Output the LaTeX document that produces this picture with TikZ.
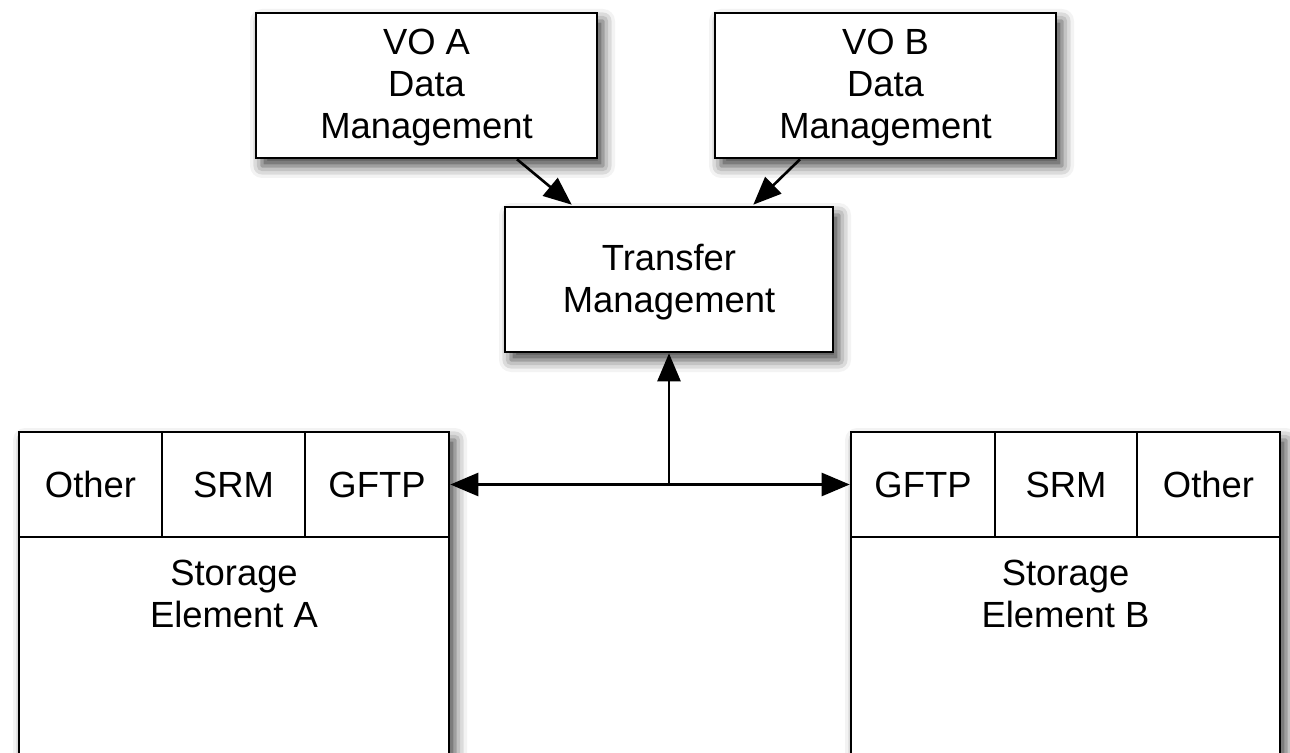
\documentclass[tikz,border=0pt]{standalone}
\usepackage{fontspec}
\setmainfont{Liberation Sans}
\usetikzlibrary{arrows.meta,shadows.blur,calc}
\begin{document}
\begin{tikzpicture}[x=0.5pt,y=-0.5pt,
  txt/.style={font=\fontsize{18.2}{21}\selectfont, align=center, inner sep=0pt},
  shad/.style={blur shadow={shadow xshift=3pt,shadow yshift=-4pt,shadow blur radius=6pt,shadow opacity=75}},
  box/.style={txt, draw, line width=1.3pt, fill=white, shad},
  cell/.style={txt, draw, line width=1.3pt, fill=white, minimum height=52.5pt},
  arr/.style={line width=1.3pt, -{Triangle[length=14pt,width=11.5pt]}}]
\useasboundingbox (0,0) rectangle (1290,753);

\node[box, minimum width=170.5pt, minimum height=72.5pt] (voa) at (426.5,85.5) {};
\node[box, minimum width=170.5pt, minimum height=72.5pt] (vob) at (885.5,85.5) {};
\node[box, minimum width=164pt, minimum height=72.5pt] (tm) at (669,279.5) {};
\node[txt] (voat) at (426.5,88) {VO A\\Data\\Management};
\node[txt] (vobt) at (885.5,88) {VO B\\Data\\Management};
\node[txt] (tmt) at (669,282) {Transfer\\Management};

\node[box, minimum width=215pt, minimum height=184pt] (sea) at (234,616) {};
\node[box, minimum width=214.5pt, minimum height=184pt] (seb) at (1065.5,616) {};

\node[cell, minimum width=71.5pt] (oa) at (90.5,484.5) {Other};
\node[cell, minimum width=71.5pt] (sa) at (233.5,484.5) {SRM};
\node[cell, minimum width=72pt] (ga) at (377,484.5) {GFTP};
\node[cell, minimum width=72pt] (gb) at (923,484.5) {GFTP};
\node[cell, minimum width=71pt] (sb) at (1066,484.5) {SRM};
\node[cell, minimum width=71.5pt] (ob) at (1208.5,484.5) {Other};

\node[txt] (la) at (234,594) {Storage\\Element A};
\node[txt] (lb) at (1065.5,594) {Storage\\Element B};

\coordinate (j) at (669,484.5);
\draw[arr] (j) -- (ga.east);
\draw[arr] (j) -- (gb.west);
\draw[arr] (j) -- (tm.south);
\draw[arr] ($(voa.south)+(90.5,0)$) -- ($(tm.north west)+(68,-1)$);
\draw[arr] ($(vob.south)+(-85.5,0)$) -- ($(tm.north east)+(-81,-1)$);
\end{tikzpicture}
\end{document}
